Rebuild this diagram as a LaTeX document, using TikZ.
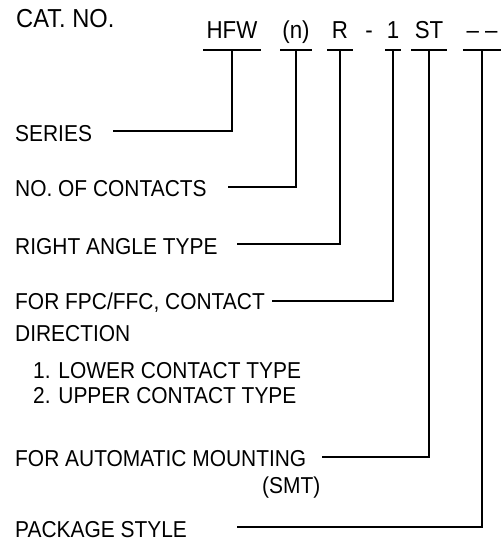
\documentclass[tikz,border=0pt]{standalone}
\usepackage{fontspec}
\setmainfont{Liberation Sans}[FakeStretch=0.91]
\tikzset{
    desc/.style={anchor=base west, inner sep=0pt, font=\fontsize{23}{23}\selectfont},
    part/.style={anchor=south, inner xsep=0pt, inner ysep=11pt, text depth=0pt, font=\fontsize{24.5}{24.5}\selectfont},
    bar/.style={line width=1.6pt},
    lead/.style={line width=1.5pt}
}
\begin{document}
\begin{tikzpicture}[x=1pt, y=-1pt]
    \useasboundingbox (0,0) rectangle (503,543);
    \node[desc, font=\fontsize{26}{26}\selectfont] (catno) at (16,28) {CAT. NO.};
    % catalogue number parts
    \node[part, minimum width=57] (hfw) at (232,50) {HFW};
    \node[part, minimum width=31] (num) at (296,50) {(n)};
    \node[part, minimum width=25] (r) at (340,50) {R};
    \node[part] (dash) at (369,50) {-};
    \node[part, minimum width=15] (one) at (393,50) {1};
    \node[part, minimum width=35] (st) at (429,50) {ST};
    \node[part, minimum width=38] (pkg) at (482,50) {-- --};
    \foreach \p in {hfw,num,r,one,st,pkg}
        \draw[bar] (\p.south west) -- (\p.south east);
    % descriptions
    \node[desc] (series) at (15,141) {SERIES};
    \node[desc] (contacts) at (15,196) {NO. OF CONTACTS};
    \node[desc] (rightangle) at (15,254) {RIGHT ANGLE TYPE};
    \node[desc] (fpc) at (15,309) {FOR FPC/FFC, CONTACT};
    \node[desc] (direction) at (15,341) {DIRECTION};
    \node[desc] (lower) at (33,378) {1. LOWER CONTACT TYPE};
    \node[desc] (upper) at (33,403) {2. UPPER CONTACT TYPE};
    \node[desc] (mounting) at (15,466) {FOR AUTOMATIC MOUNTING};
    \node[desc] (smt) at (262,493) {(SMT)};
    \node[desc] (package) at (15,537) {PACKAGE STYLE};
    % leader ends
    \coordinate (s1) at (113,131);
    \coordinate (c1) at (228,187);
    \coordinate (r1) at (237,244);
    \coordinate (f1) at (272,301);
    \coordinate (m1) at (322,457);
    \coordinate (p1) at (237,527);
    \draw[lead] (hfw.south) |- (s1);
    \draw[lead] (num.south) |- (c1);
    \draw[lead] (r.south) |- (r1);
    \draw[lead] (one.south) |- (f1);
    \draw[lead] (st.south) |- (m1);
    \draw[lead] (pkg.south) |- (p1);
\end{tikzpicture}
\end{document}
